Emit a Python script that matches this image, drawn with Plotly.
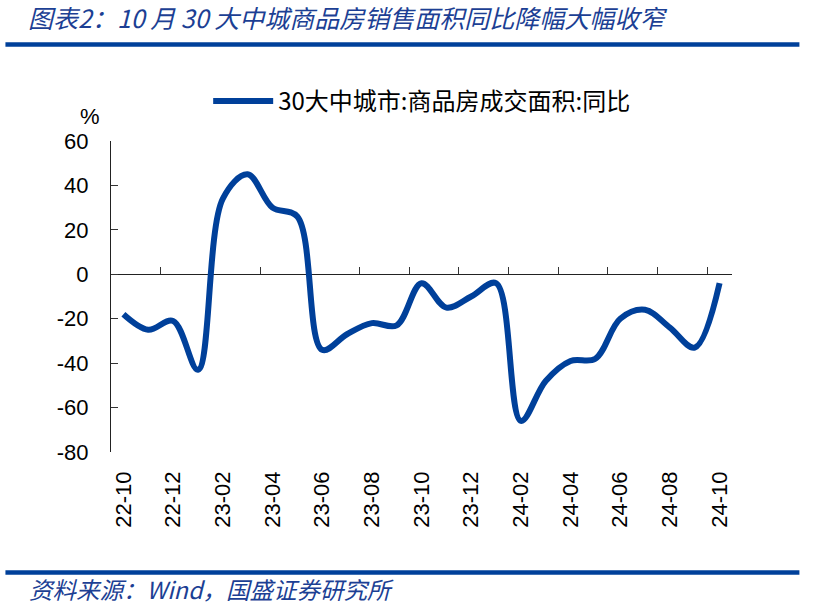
import plotly.graph_objects as go

# ---------------- data ----------------
months = ['22-10', '22-11', '22-12',
          '23-01', '23-02', '23-03', '23-04', '23-05', '23-06',
          '23-07', '23-08', '23-09', '23-10', '23-11', '23-12',
          '24-01', '24-02', '24-03', '24-04', '24-05', '24-06',
          '24-07', '24-08', '24-09', '24-10']
yoy = [-18, -25, -21,
       -43, 34, 45, 30, 26, -34,
       -27, -22, -23, -4, -15, -10,
       -4, -66, -48, -39, -38, -20,
       -16, -24, -33, -4]
series_name = '30大中城市:商品房成交面积:同比'
y_ticks = [60, 40, 20, 0, -20, -40, -60, -80]
y_min, y_max = -80, 60

title_text = '图表2：10 月 30 大中城商品房销售面积同比降幅大幅收窄'
source_text = '资料来源：Wind，国盛证券研究所'

# ---------------- layout geometry ----------------
W, H = 814, 607
L, R, T, B = 110.7, 732.5, 140.7, 452.3


def px_x(px):
    return (px - L) / (R - L)


def px_y(py):
    return (B - py) / (B - T)


BLUE = '#00409a'
TEXT_BLUE = '#1c3f94'
FONT = 'Liberation Sans, Arial, Noto Sans CJK SC, sans-serif'
CJK = 'Noto Sans CJK SC, Liberation Sans, sans-serif'

fig = go.Figure()

# main line (on the zero-line axis, which carries the boundary ticks)
fig.add_trace(go.Scatter(
    x=months, y=yoy, xaxis='x2', yaxis='y',
    mode='lines', name=series_name,
    line=dict(color=BLUE, width=6, shape='spline', smoothing=1),
    showlegend=True, hoverinfo='x+y'))
# invisible companion for the bottom label axis
fig.add_trace(go.Scatter(
    x=months, y=yoy, xaxis='x', yaxis='y',
    mode='lines', line=dict(width=0, color='rgba(0,0,0,0)'),
    showlegend=False, hoverinfo='skip'))

zero_pos = (0 - y_min) / (y_max - y_min)

fig.update_layout(
    width=W, height=H,
    margin=dict(l=L, r=W - R, t=T, b=H - B),
    paper_bgcolor='white', plot_bgcolor='white',
    font=dict(family=FONT, size=22, color='black'),
    xaxis=dict(
        type='category', categoryorder='array', categoryarray=months,
        range=[-0.5, len(months) - 0.5],
        tickmode='linear', tick0=0, dtick=2,
        tickangle=-90, ticks='', showline=False, showgrid=False,
        zeroline=False, ticklabelstandoff=14,
        tickfont=dict(family=FONT, size=22, color='black'),
    ),
    xaxis2=dict(
        type='category', categoryorder='array', categoryarray=months,
        range=[-0.5, len(months) - 0.5],
        overlaying='x', anchor='free', position=zero_pos, side='bottom',
        tickmode='linear', tick0=0, dtick=2, tickson='boundaries',
        ticks='inside', ticklen=7, tickwidth=1.3, tickcolor='#333',
        showticklabels=False, showline=True, linecolor='#222', linewidth=1.3,
        showgrid=False, zeroline=False, layer='below traces',
    ),
    yaxis=dict(
        range=[y_min, y_max], tickmode='array', tickvals=y_ticks,
        ticktext=[str(v) for v in y_ticks],
        ticks='inside', ticklen=7, tickwidth=1.3, tickcolor='#333',
        showline=True, linecolor='#222', linewidth=1.3,
        showgrid=False, zeroline=False, layer='below traces',
        ticklabelstandoff=17,
        tickfont=dict(family=FONT, size=22, color='black'),
    ),
    legend=dict(
        orientation='h', x=px_x(208), xanchor='left',
        y=px_y(101), yanchor='middle',
        font=dict(family=CJK, size=24, color='black'),
        bgcolor='rgba(0,0,0,0)', itemwidth=60,
    ),
    annotations=[
        dict(text='%', xref='paper', yref='paper', x=px_x(90), y=px_y(116),
             xanchor='center', yanchor='middle', showarrow=False,
             font=dict(family=FONT, size=22, color='black')),
        dict(text='<i>' + title_text + '</i>', xref='paper', yref='paper',
             x=px_x(26), y=px_y(16), xanchor='left', yanchor='middle',
             showarrow=False,
             font=dict(family=CJK, size=25, color=TEXT_BLUE)),
        dict(text='<i>' + source_text + '</i>', xref='paper', yref='paper',
             x=px_x(27), y=px_y(590), xanchor='left', yanchor='middle',
             showarrow=False,
             font=dict(family=CJK, size=23.5, color=TEXT_BLUE)),
    ],
    shapes=[
        dict(type='line', xref='paper', yref='paper',
             x0=px_x(5), x1=px_x(800), y0=px_y(44), y1=px_y(44),
             line=dict(color=BLUE, width=4.5)),
        dict(type='line', xref='paper', yref='paper',
             x0=px_x(5), x1=px_x(800), y0=px_y(573), y1=px_y(573),
             line=dict(color=BLUE, width=4.5)),
    ],
)

fig.write_html('out.html',
               config={'displayModeBar': False},
               post_script="document.body.style.margin='0px';"
                           "document.body.style.overflow='hidden';")
